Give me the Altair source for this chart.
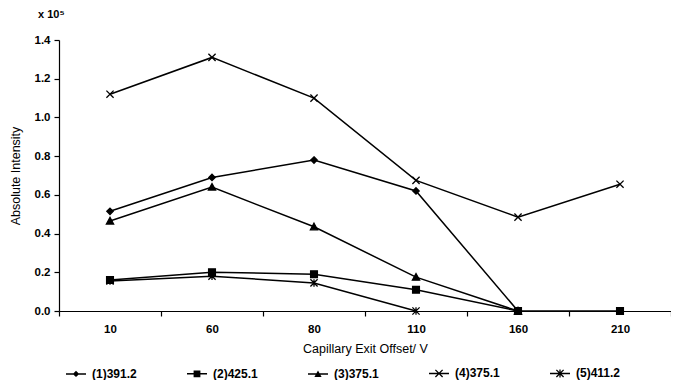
import altair as alt
import pandas as pd

voltages = ["10", "60", "80", "110", "160", "210"]
series_names = ["(1)391.2", "(2)425.1", "(3)375.1", "(4)375.1", "(5)411.2"]
s1 = [0.515, 0.69, 0.78, 0.62, 0.0]
s2 = [0.16, 0.20, 0.19, 0.11, 0.0, 0.0]
s3 = [0.465, 0.64, 0.435, 0.175, 0.0]
s4 = [1.12, 1.31, 1.10, 0.675, 0.485, 0.655]
s5 = [0.155, 0.18, 0.145, 0.0]
y_ticks = [0.0, 0.2, 0.4, 0.6, 0.8, 1.0, 1.2, 1.4]

rows = []
for name, vals in zip(series_names, [s1, s2, s3, s4, s5]):
    for i, v in enumerate(vals):
        rows.append({"series": name, "volt": voltages[i], "order": i, "value": v})
df = pd.DataFrame(rows)

# marker shapes (size 64 -> unit = 4px)
marker_paths = [
    "M0,-0.8L0.8,0L0,0.8L-0.8,0Z",
    "M-0.85,-0.85H0.85V0.85H-0.85Z",
    "M0,-0.9L0.9,0.75H-0.9Z",
    "M-0.9,-0.9L0.9,0.9M-0.9,0.9L0.9,-0.9",
    "M-0.9,-0.9L0.9,0.9M-0.9,0.9L0.9,-0.9M0,-0.95V0.95",
]
# legend symbols: line + marker, fill-only outlines (size 400 -> unit = 10px)
LINE = "M-1,-0.075H1V0.075H-1Z"
ARM1 = "M-0.314,-0.406L0.406,0.314L0.314,0.406L-0.406,-0.314Z"
ARM2 = "M-0.406,0.314L0.314,-0.406L0.406,-0.314L-0.314,0.406Z"
VARM = "M-0.065,-0.4H0.065V0.4H-0.065Z"
legend_paths = [
    LINE + "M0,-0.32L0.32,0L0,0.32L-0.32,0Z",
    LINE + "M-0.34,-0.34H0.34V0.34H-0.34Z",
    LINE + "M0,-0.36L0.36,0.3H-0.36Z",
    LINE + ARM1 + ARM2,
    LINE + ARM1 + ARM2 + VARM,
]

FONT = "Liberation Sans, Arial, sans-serif"

x_enc = alt.X(
    "volt:N",
    sort=voltages,
    bandPosition=0.5,
    scale=alt.Scale(type="band", domain=voltages, paddingInner=0, paddingOuter=0),
    axis=alt.Axis(
        title="Capillary Exit Offset/ V",
        tickBand="extent",
        labelAngle=0,
        grid=False,
        tickSize=5,
        labelPadding=7,
        titlePadding=8,
    ),
)
y_enc = alt.Y(
    "value:Q",
    scale=alt.Scale(domain=[0, 1.4], nice=False),
    axis=alt.Axis(
        title="Absolute Intensity",
        values=y_ticks,
        format=".1f",
        grid=False,
        tickSize=5,
        labelPadding=4,
        titlePadding=12,
    ),
)

base = alt.Chart(df)

lines = base.mark_line(color="black", strokeWidth=1.5).encode(
    x=x_enc, y=y_enc, detail="series:N", order="order:Q"
)

points = base.mark_point(
    fill="black", stroke="black", strokeWidth=1.3, size=64, opacity=1, filled=False
).encode(
    x=x_enc,
    y=y_enc,
    shape=alt.Shape(
        "series:N",
        scale=alt.Scale(domain=series_names, range=marker_paths),
        legend=None,
    ),
)

legend_layer = base.transform_filter("false").mark_point(
    filled=True, color="black", size=400, opacity=1
).encode(
    x=x_enc,
    y=y_enc,
    shape=alt.Shape(
        "series:N",
        scale=alt.Scale(domain=series_names, range=legend_paths),
        legend=alt.Legend(
            title=None,
            orient="none",
            direction="horizontal",
            columns=5,
            gridAlign="all",
            legendX=6,
            legendY=322,
            symbolSize=400,
            symbolFillColor="black",
            symbolOpacity=1,
            labelOffset=5,
            columnPadding=47,
            labelFont=FONT,
            labelFontSize=12,
            labelFontWeight="bold",
            labelColor="black",
        ),
    ),
)

chart = (
    alt.layer(lines, points, legend_layer)
    .resolve_scale(shape="independent")
    .properties(
        width=612,
        height=271,
        autosize=alt.AutoSizeParams(type="none"),
        padding={"left": 51, "top": 32, "right": 0, "bottom": 69},
        title=alt.TitleParams(
            text="x 10⁵",
            anchor="start",
            frame="group",
            dx=-21,
            offset=14,
            font=FONT,
            fontSize=11,
            fontWeight="bold",
            color="black",
        ),
    )
    .configure_view(stroke=None)
    .configure_axis(
        domainColor="black",
        tickColor="black",
        domainWidth=1.2,
        tickWidth=1.2,
        labelFont=FONT,
        labelFontSize=11.5,
        labelFontWeight="bold",
        labelColor="black",
        titleFont=FONT,
        titleFontSize=12.5,
        titleFontWeight="normal",
        titleColor="black",
    )
)

chart.save("out.html", embed_options={"renderer": "svg", "actions": False})
